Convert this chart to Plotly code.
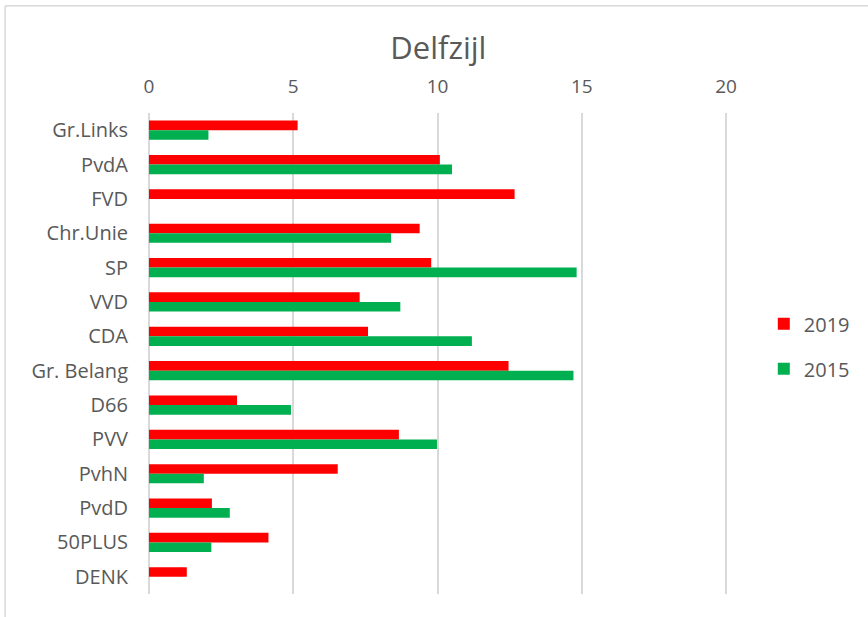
import plotly.graph_objects as go

categories = ["Gr.Links", "PvdA", "FVD", "Chr.Unie", "SP", "VVD", "CDA",
              "Gr. Belang", "D66", "PVV", "PvhN", "PvdD", "50PLUS", "DENK"]
values_2019 = [5.15, 10.08, 12.67, 9.38, 9.78, 7.30, 7.59, 12.46, 3.05, 8.66, 6.54, 2.18, 4.14, 1.31]
values_2015 = [2.06, 10.50, None, 8.39, 14.82, 8.71, 11.19, 14.71, 4.92, 9.98, 1.90, 2.80, 2.16, None]
x_ticks = [0, 5, 10, 15, 20]

FONT = "Open Sans"
TXT = "#595959"

fig = go.Figure()
fig.add_trace(go.Bar(y=categories, x=values_2019, orientation="h", name="2019",
                     marker=dict(color="#FF0000", line=dict(width=0)), legendgroup="a"))
fig.add_trace(go.Bar(y=categories, x=values_2015, orientation="h", name="2015",
                     marker=dict(color="#00B050", line=dict(width=0)), legendgroup="b"))

fig.update_layout(
    width=868, height=617,
    margin=dict(l=149, r=139, t=113, b=23),
    paper_bgcolor="white", plot_bgcolor="white",
    barmode="group", bargap=0.44, bargroupgap=0,
    title=dict(text="Delfzijl", x=0.505, xanchor="center", y=0.922, yanchor="middle",
               font=dict(family=FONT, size=31, color=TXT)),
    font=dict(family=FONT, color=TXT),
    legend=dict(x=1.06, y=0.515, xanchor="left", yanchor="middle",
                font=dict(size=20, color=TXT), tracegroupgap=16,
                traceorder="grouped", bgcolor="rgba(0,0,0,0)"),
    shapes=[
        dict(type="line", xref="paper", yref="paper",
             x0=-0.248, x1=1.3, y0=1.223, y1=1.223,
             line=dict(color="#D9D9D9", width=1.5)),
        dict(type="line", xref="paper", yref="paper",
             x0=-0.248, x1=-0.248, y0=1.223, y1=-0.06,
             line=dict(color="#D9D9D9", width=1.5)),
    ],
)
fig.update_xaxes(range=[0, 20.1], tickvals=x_ticks, side="top",
                 showgrid=True, gridcolor="#D9D9D9", gridwidth=1.5,
                 zeroline=True, zerolinecolor="#D9D9D9", zerolinewidth=1.5,
                 showline=False, ticks="", ticklabelstandoff=15,
                 tickfont=dict(family=FONT, size=19, color=TXT))
fig.update_yaxes(autorange="reversed", showgrid=False, showline=False, ticks="",
                 ticklabelstandoff=20,
                 tickfont=dict(family=FONT, size=20, color=TXT))

fig.write_html("out.html", post_script="document.body.style.margin='0';",
               config={"displayModeBar": False})
